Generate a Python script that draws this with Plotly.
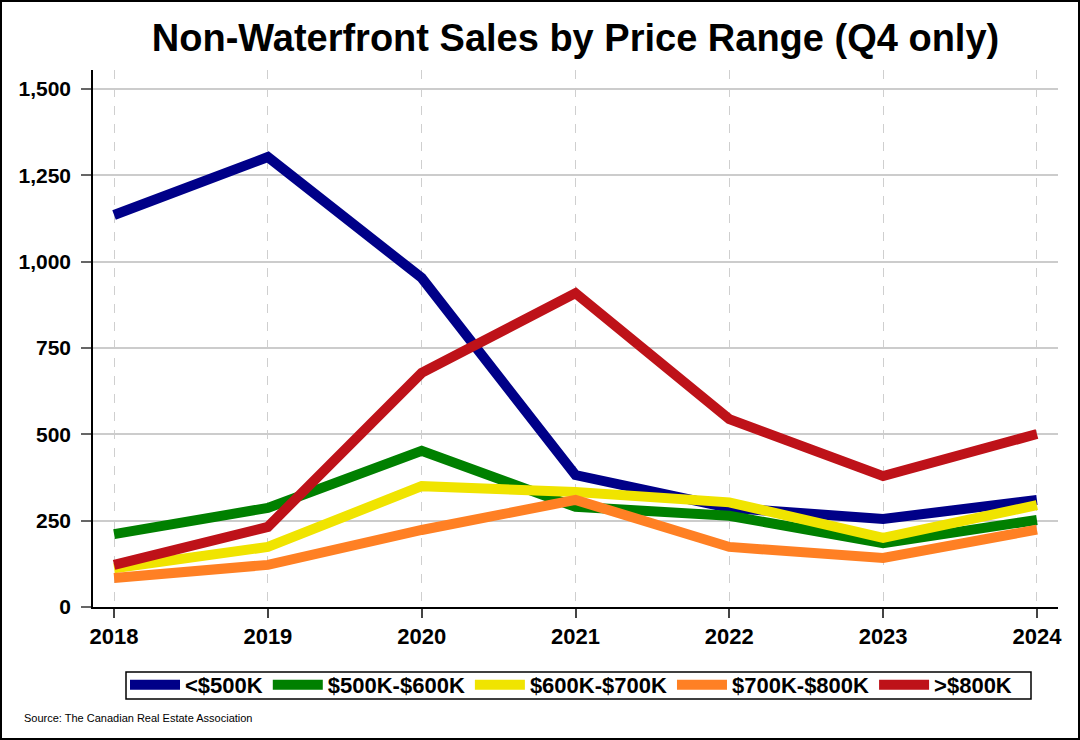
import plotly.graph_objects as go

years = [2018, 2019, 2020, 2021, 2022, 2023, 2024]
series_names = ["<$500K", "$500K-$600K", "$600K-$700K", "$700K-$800K", ">$800K"]
under_500 = [1135, 1303, 953, 382, 287, 255, 310]
r500_600 = [211, 287, 452, 290, 264, 185, 252]
r600_700 = [112, 174, 350, 333, 303, 200, 295]
r700_800 = [84, 122, 223, 310, 174, 142, 224]
over_800 = [122, 232, 678, 909, 544, 379, 501]
colors = ["#000088", "#008000", "#F0E400", "#FF8024", "#BE1219"]
y_ticks = [0, 250, 500, 750, 1000, 1250, 1500]

FONT = "Liberation Sans, Arial, sans-serif"

fig = go.Figure()
for name, vals, c in zip(series_names, [under_500, r500_600, r600_700, r700_800, over_800], colors):
    fig.add_trace(go.Scatter(x=years, y=vals, name=name, mode="lines",
                             line=dict(color=c, width=10)))

W, H = 1080, 740
L, R, T, B = 93, 22, 70, 133
pw, ph = W - L - R, H - T - B

def px_x(p):
    return (p - L) / pw

def px_y(p):
    return (H - B - p) / ph

fig.update_layout(
    width=W, height=H,
    margin=dict(l=L, r=R, t=T, b=B),
    paper_bgcolor="white", plot_bgcolor="white",
    font=dict(family=FONT, color="black"),
    title=dict(text="Non-Waterfront Sales by Price Range (Q4 only)",
               x=0.5, xref="paper", xanchor="center",
               y=1 - 38 / H, yref="container", yanchor="middle",
               font=dict(size=38, weight="bold", family=FONT, color="black")),
    legend=dict(orientation="h", x=px_x(571), xanchor="center",
                y=px_y(685), yanchor="middle",
                font=dict(size=22, weight="bold", family=FONT),
                borderwidth=0, bgcolor="rgba(0,0,0,0)",
                itemwidth=50, tracegroupgap=0),
    showlegend=True,
)

fig.update_xaxes(
    range=[2017.863, 2024.137],
    tickvals=years, ticktext=[str(y) for y in years],
    tickfont=dict(size=22, weight="bold", family=FONT),
    ticks="outside", ticklen=9, tickcolor="#444", tickwidth=1.5,
    showline=True, linecolor="black", linewidth=1.5,
    showgrid=True, gridcolor="#cfcfcf", griddash="dash", gridwidth=1,
    zeroline=False,
)
fig.update_yaxes(
    range=[0, 1555],
    tickvals=y_ticks, tickformat=",",
    tickfont=dict(size=21, weight="bold", family=FONT),
    ticks="outside", ticklen=10, tickcolor="#666", tickwidth=1.5,
    ticklabelstandoff=6,
    showline=True, linecolor="black", linewidth=1.5,
    showgrid=True, gridcolor="#cccccc", gridwidth=1.5,
    zeroline=False,
)

fig.add_annotation(text="Source: The Canadian Real Estate Association",
                   xref="paper", yref="paper", x=px_x(22), y=px_y(718),
                   xanchor="left", yanchor="middle", showarrow=False,
                   font=dict(size=11, family=FONT, color="black"))

# legend frame
fig.add_shape(type="rect", xref="paper", yref="paper",
              x0=px_x(126), x1=px_x(1031), y0=px_y(699), y1=px_y(672),
              line=dict(color="black", width=1.5), fillcolor="rgba(0,0,0,0)")
# outer figure frame
fig.add_shape(type="rect", xref="paper", yref="paper",
              x0=px_x(1), x1=px_x(W - 1), y0=px_y(H - 1), y1=px_y(1),
              line=dict(color="black", width=2), fillcolor="rgba(0,0,0,0)")

fig.write_html("out.html", config={"displayModeBar": False},
               post_script="document.body.style.margin='0px';document.body.style.overflow='hidden';")
